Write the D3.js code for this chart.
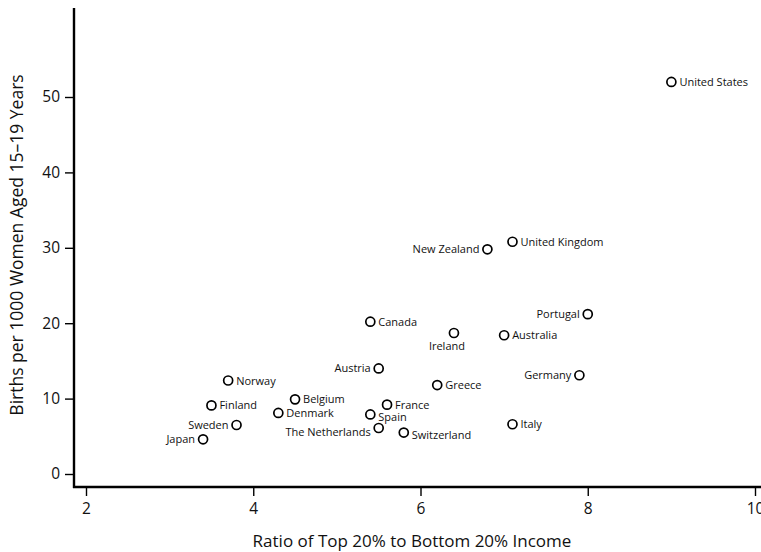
<!DOCTYPE html>
<html>
<head>
<meta charset="utf-8">
<script src="https://cdn.jsdelivr.net/npm/d3@7"></script>
<style>
    body { margin: 0; background: #fff; }
    text { font-family: "Open Sans", sans-serif; fill: #111; }
</style>
</head>
<body>
<div id="the_chart"></div>
<script>
// countries and their values
var countries = ["United States", "United Kingdom", "New Zealand", "Portugal", "Canada", "Ireland",
    "Australia", "Austria", "Germany", "Norway", "Greece", "Belgium", "Finland", "France",
    "Denmark", "Spain", "Sweden", "The Netherlands", "Italy", "Switzerland", "Japan"];
var incomeRatio = [9.0, 7.1, 6.8, 8.0, 5.4, 6.4, 7.0, 5.5, 7.9, 3.7, 6.2, 4.5, 3.5, 5.6,
    4.3, 5.4, 3.8, 5.5, 7.1, 5.8, 3.4];
var teenBirths = [52.0, 30.8, 29.8, 21.2, 20.2, 18.7, 18.4, 14.0, 13.1, 12.4, 11.8, 9.9, 9.1, 9.2,
    8.1, 7.9, 6.5, 6.1, 6.6, 5.5, 4.6];
var xTicks = [2, 4, 6, 8, 10];
var yTicks = [0, 10, 20, 30, 40, 50];

// where each label sits relative to its circle (default right)
var labelSide = {
    "New Zealand": "left", "Portugal": "left", "Austria": "left", "Germany": "left",
    "Sweden": "left", "The Netherlands": "left", "Japan": "left", "Ireland": "below"
};
var labelDy = { "Spain": 3, "Switzerland": 2, "The Netherlands": 4 };

var w = 761;
var h = 552;

var svg = d3.select("#the_chart")
    .append("svg")
    .attr("width", w)
    .attr("height", h);

var xscale = d3.scaleLinear()
    .domain([2, 10])
    .range([86, 755]);
var yscale = d3.scaleLinear()
    .domain([0, 50])
    .range([474, 97]);

var axisX = 74;   // y axis line position
var axisY = 487;  // x axis line position

// axis lines
svg.append("line")
    .attr("x1", axisX).attr("x2", axisX)
    .attr("y1", 8).attr("y2", axisY + 1)
    .attr("stroke", "#000").attr("stroke-width", 2.4);
svg.append("line")
    .attr("x1", axisX - 1).attr("x2", w)
    .attr("y1", axisY).attr("y2", axisY)
    .attr("stroke", "#000").attr("stroke-width", 2.4);

var yaxis = d3.axisLeft(yscale)
    .tickValues(yTicks)
    .tickSize(8)
    .tickPadding(5);
var yg = svg.append("g")
    .attr("transform", "translate(" + (axisX - 1) + ",0)")
    .call(yaxis);
yg.select(".domain").remove();
yg.selectAll(".tick line").attr("stroke-width", 1.4);
yg.selectAll(".tick text").style("font-size", "15.5px").style("font-family", "Open Sans, sans-serif");

var xaxis = d3.axisBottom(xscale)
    .tickValues(xTicks)
    .tickSize(8)
    .tickPadding(7);
var xg = svg.append("g")
    .attr("transform", "translate(0," + (axisY + 1) + ")")
    .call(xaxis);
xg.select(".domain").remove();
xg.selectAll(".tick line").attr("stroke-width", 1.4);
xg.selectAll(".tick text").style("font-size", "15.5px").style("font-family", "Open Sans, sans-serif");

// axis titles
svg.append("text")
    .attr("x", 412)
    .attr("y", 547)
    .attr("text-anchor", "middle")
    .style("font-size", "17px")
    .text("Ratio of Top 20% to Bottom 20% Income");
svg.append("text")
    .attr("transform", "translate(23,245) rotate(-90)")
    .attr("text-anchor", "middle")
    .style("font-size", "17.5px")
    .text("Births per 1000 Women Aged 15\u201319 Years");

var idx = d3.range(countries.length);

svg.selectAll("circle")
    .data(idx)
    .enter().append("circle")
    .attr("cx", function (i) { return xscale(incomeRatio[i]); })
    .attr("cy", function (i) { return yscale(teenBirths[i]); })
    .attr("r", 4.5)
    .attr("fill", "#fff")
    .attr("stroke", "#000")
    .attr("stroke-width", 1.7);

svg.selectAll("text.label")
    .data(idx)
    .enter().append("text")
    .attr("class", "label")
    .style("font-size", "11px")
    .attr("x", function (i) {
        var side = labelSide[countries[i]] || "right";
        var cx = xscale(incomeRatio[i]);
        if (side == "left") return cx - 8;
        if (side == "below") return cx - 7;
        return cx + 8;
    })
    .attr("y", function (i) {
        var cy = yscale(teenBirths[i]);
        if (labelSide[countries[i]] == "below") return cy + 17;
        return cy + 4 + (labelDy[countries[i]] || 0);
    })
    .attr("text-anchor", function (i) {
        var side = labelSide[countries[i]] || "right";
        if (side == "left") return "end";
        if (side == "below") return "middle";
        return "start";
    })
    .text(function (i) { return countries[i]; });
</script>
</body>
</html>
